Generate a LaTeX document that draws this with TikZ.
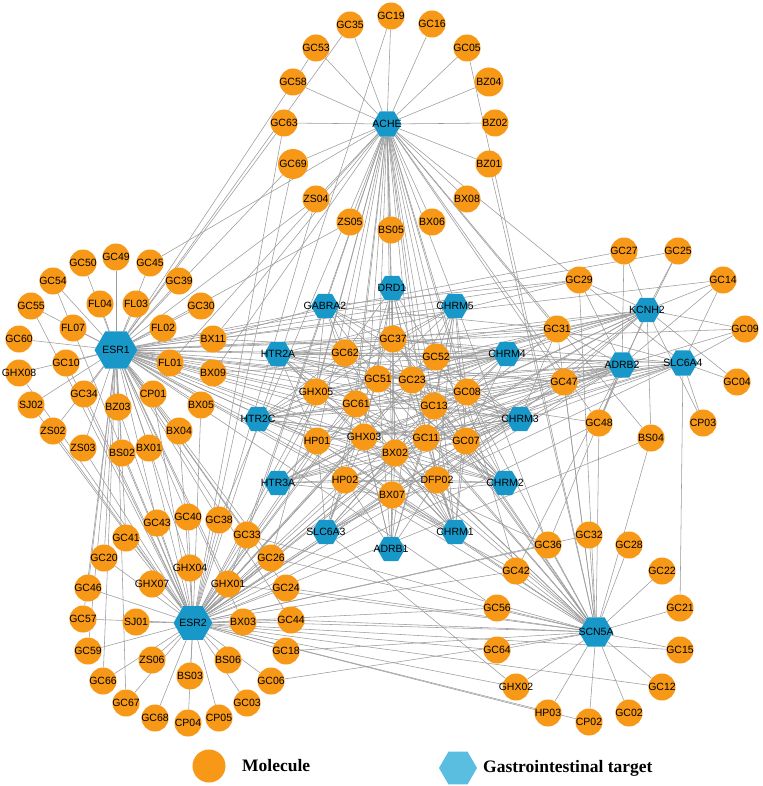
\documentclass[tikz,border=0pt]{standalone}
\usepackage{fontspec}
\setmainfont{Liberation Sans}
\newfontfamily\legfont{Liberation Serif}
\usetikzlibrary{shapes.geometric,backgrounds}
\definecolor{molorange}{RGB}{247,152,22}
\definecolor{hexblue}{RGB}{24,152,200}
\definecolor{leghex}{RGB}{90,190,225}
\definecolor{edgegray}{RGB}{155,155,155}
\tikzset{
 lab/.style={font=\fontsize{10.5}{12}\selectfont, text=black, inner sep=0pt},
 mol/.style={circle, fill=molorange, minimum size=27pt, inner sep=0pt, label={[lab]center:#1}},
 tgt/.style={regular polygon, regular polygon sides=6, fill=hexblue, inner sep=0pt, label={[lab]center:#1}},
 edge/.style={draw=edgegray, line width=0.55pt},
 legtext/.style={anchor=west, inner sep=0pt, font=\legfont\bfseries\fontsize{17.5}{20}\selectfont},
}
\newcommand\molnode[3]{\node[mol={#1}] (#1) at (#2,#3) {};}
\newcommand\tgtnode[4]{\node[tgt={#1}, minimum size=#2pt] (#1) at (#3,#4) {};}
\begin{document}
\begin{tikzpicture}[x=1pt,y=-1pt]
\useasboundingbox (0,0) rectangle (762,786);
% ACHE cluster
\molnode{GC35}{350}{25}
\molnode{GC19}{391}{16}
\molnode{GC16}{432}{24}
\molnode{GC05}{467}{48}
\molnode{GC53}{316}{48}
\molnode{GC58}{293}{82}
\node[mol={BZ04}, minimum size=29pt] (BZ04) at (489,82) {};
\molnode{GC63}{284}{123}
\tgtnode{ACHE}{29}{387}{124}
\molnode{BZ02}{495}{123}
\node[mol={GC69}, minimum size=30pt] (GC69) at (293,164) {};
\molnode{BZ01}{489}{164}
\molnode{ZS04}{316}{199}
\molnode{BX08}{467}{199}
\molnode{ZS05}{350}{222}
\molnode{BS05}{391}{230}
\molnode{BX06}{432}{222}
% ESR1 cluster
\molnode{GC50}{83}{263}
\molnode{GC49}{116}{257}
\molnode{GC45}{150}{263}
\molnode{GC54}{53}{281}
\molnode{GC39}{179}{281}
\molnode{GC55}{31}{306}
\molnode{FL04}{100}{304}
\molnode{FL03}{136}{304}
\molnode{GC30}{201}{306}
\molnode{FL07}{73}{328}
\molnode{FL02}{163}{328}
\molnode{GC60}{19}{339}
\tgtnode{ESR1}{43}{116}{350}
\molnode{BX11}{213}{339}
\molnode{GC10}{66}{363}
\molnode{FL01}{170}{363}
\molnode{GHX08}{19}{373}
\molnode{BX09}{213}{373}
\molnode{GC34}{84}{394}
\molnode{CP01}{153}{394}
\molnode{SJ02}{31}{405}
\molnode{BZ03}{118}{407}
\molnode{BX05}{201}{405}
\molnode{ZS02}{53}{431}
\molnode{BX04}{179}{431}
\molnode{ZS03}{83}{448}
\molnode{BS02}{122}{453}
\molnode{BX01}{149}{448}
% middle
\tgtnode{GABRA2}{28}{325}{306}
\tgtnode{DRD1}{28}{392}{288}
\tgtnode{CHRM5}{28}{455}{306}
\molnode{GC37}{393}{339}
\tgtnode{HTR2A}{28}{278}{354}
\molnode{GC62}{345}{353}
\molnode{GC52}{436}{357}
\tgtnode{CHRM4}{28}{507}{354}
\molnode{GC51}{378}{379}
\molnode{GC23}{412}{380}
\molnode{GHX05}{316}{392}
\molnode{GC61}{356}{404}
\molnode{GC13}{434}{406}
\molnode{GC08}{467}{392}
\tgtnode{HTR2C}{28}{258}{419}
\tgtnode{CHRM3}{28}{520}{419}
\molnode{HP01}{317}{441}
\molnode{GHX03}{364}{437}
\molnode{GC11}{426}{438}
\molnode{GC07}{466}{441}
\molnode{BX02}{395}{453}
\tgtnode{HTR3A}{28}{278}{483}
\molnode{HP02}{345}{480}
\molnode{DFP02}{437}{480}
\tgtnode{CHRM2}{28}{505}{483}
\molnode{BX07}{392}{495}
\tgtnode{SLC6A3}{28}{326}{532}
\tgtnode{CHRM1}{28}{455}{532}
\tgtnode{ADRB1}{28}{391}{549}
% right cluster
\molnode{GC27}{624}{251}
\molnode{GC25}{678}{251}
\molnode{GC29}{579}{280}
\molnode{GC14}{723}{280}
\tgtnode{KCNH2}{28}{647}{310}
\molnode{GC31}{557}{329}
\molnode{GC09}{745}{329}
\tgtnode{ADRB2}{29}{622}{365}
\tgtnode{SLC6A4}{29}{683}{363}
\molnode{GC47}{564}{382}
\molnode{GC04}{737}{382}
\molnode{GC48}{599}{423}
\molnode{CP03}{703}{423}
\molnode{BS04}{651}{438}
% ESR2 cluster
\molnode{GC43}{157}{523}
\molnode{GC40}{188}{517}
\molnode{GC38}{219}{520}
\molnode{GC41}{126}{538}
\molnode{GC33}{247}{535}
\molnode{GC20}{104}{558}
\molnode{GC26}{271}{558}
\molnode{GHX04}{190}{568}
\molnode{GC46}{88}{588}
\molnode{GHX07}{152}{584}
\molnode{GHX01}{228}{584}
\molnode{GC24}{286}{588}
\molnode{GC57}{83}{619}
\molnode{SJ01}{136}{622}
\tgtnode{ESR2}{39}{193}{623}
\molnode{BX03}{243}{622}
\molnode{GC44}{291}{620}
\molnode{GC59}{88}{651}
\molnode{GC18}{286}{651}
\molnode{ZS06}{152}{660}
\molnode{BS06}{228}{660}
\molnode{GC66}{103}{681}
\molnode{BS03}{190}{676}
\molnode{GC06}{271}{681}
\molnode{GC67}{126}{703}
\molnode{GC03}{247}{703}
\molnode{GC68}{155}{718}
\molnode{CP04}{188}{723}
\molnode{CP05}{219}{718}
% SCN5A cluster
\molnode{GC32}{589}{535}
\molnode{GC36}{548}{545}
\molnode{GC28}{629}{545}
\molnode{GC42}{516}{571}
\molnode{GC22}{662}{571}
\molnode{GC56}{497}{608}
\molnode{GC21}{680}{608}
\tgtnode{SCN5A}{34}{596}{632}
\molnode{GC64}{497}{650}
\molnode{GC15}{680}{650}
\molnode{GHX02}{516}{687}
\molnode{GC12}{662}{687}
\molnode{HP03}{548}{713}
\molnode{GC02}{629}{713}
\molnode{CP02}{589}{722}
% legend
\node[circle, fill=molorange, minimum size=33pt, inner sep=0pt] (legmol) at (209,766) {};
\node[legtext] (legmoltext) at (242,766) {Molecule};
\node[regular polygon, regular polygon sides=6, fill=leghex, minimum size=38pt, inner sep=0pt] (leghex) at (458,768) {};
\node[legtext] (leghextext) at (483,768) {Gastrointestinal target};
% edges
\begin{scope}[on background layer]
\fill[white] (0,0) rectangle (762,786);
\foreach \t/\ms in {
 ACHE/{GC35,GC19,GC16,GC05,GC53,GC58,BZ04,GC63,BZ02,GC69,BZ01,ZS04,BX08,ZS05,BS05,BX06,GC45,GC37,GC62,GC52,GC51,GC23,GC61,GC13,GC11,BX02,BX07,HP02,DFP02,GHX03,HP01,GHX05,GC08,GC07,GC31,GC47,GC48,GC29,BX11,BX09,FL01,GC33,GC26,GHX01,GC36,GC42,BS04,GC38},
 ESR1/{GC50,GC49,GC45,GC54,GC39,GC55,FL04,FL03,GC30,FL07,FL02,GC60,BX11,GC10,FL01,GHX08,BX09,GC34,CP01,SJ02,BZ03,BX05,ZS02,BX04,ZS03,BS02,BX01,GC63,GC69,ZS04,ZS05,GC35,GC53,GC37,GC62,GHX05,GC61,GC51,GC23,HP01,GHX03,BX02,GC11,GC13,GC08,GC07,HP02,BX07,DFP02,GC52,GC47,GC31,GC29,GC27,GC25,GC14,GC09,GC48,GC33,GC38,GC40,GC43,GC41,GC26,GHX04,GHX01,GC24,GC44,BX03,GC42,GC36,GC56,GC20,GC46,GC57,GC59,GC66,GC67},
 ESR2/{GC43,GC40,GC38,GC41,GC20,GHX04,GC46,GHX07,GHX01,GC33,GC57,SJ01,BX03,GC59,ZS06,BS06,GC66,BS03,GC67,GC03,GC68,CP04,CP05,GC26,GC24,GC44,GC18,GC06,GC37,GC62,GHX05,GC61,GC51,GC23,HP01,GHX03,BX02,GC11,GC13,GC08,GC07,HP02,BX07,DFP02,GC52,GC47,GC31,GC48,GC56,GC64,GHX02,HP03,CP02,GC42,GC36,GC32,BS04,GC54,GC55,GHX08,SJ02,ZS02,ZS03,BZ03,BS02,BX01,BX04,GC34,CP01,GC10,GC63,GC69,GC19,BX05,ZS04,GC12,GC15},
 SCN5A/{GC36,GC32,GC28,GC42,GC22,GC56,GC21,GC64,GC15,GHX02,GC12,HP03,GC02,CP02,GC37,GC51,GC23,GC13,BX02,GC11,BX07,DFP02,GC07,GC08,GC61,GHX03,HP02,HP01,GC47,GC48,BS04,GC05,BZ01,GC33,GC26,BX03,GC44,GHX01,GC24,GC18,GC06,GC29,GC31},
 KCNH2/{GC27,GC25,GC29,GC14,GC31,GC09,GC47,GC04,GC48,CP03,BS04,GC37,GC52,GC08,GC13,GC23,GC11,GC07,DFP02,BX02,GC61,GC51,GC62,GHX05},
 ADRB2/{GC29,GC31,GC47,GC48,GC14,GC27,GC25,GC09,GC37,GC52,GC08,GC13,GC23,GC11,GC07,DFP02,BX02,GC51,GC61,HP01,GHX03,BX07,HP02,GC36,GC42},
 SLC6A4/{GC04,GC09,GC14,CP03,GC47,GC31,GC29,GC37,GC52,GC08,GC13,GC11,GC07,DFP02,BX02,GC62,GHX05,GHX03,GC21},
 GABRA2/{GC37,GC62,GC51,GC23,GHX05,GC61,GC08,BX11,GC29,GC31},
 DRD1/{GC37,GC62,GC52,GC51,GC23,GC13,GC61,GHX03,BX02,GC11},
 CHRM5/{GC37,GC52,GC23,GC13,GC08,GC11,GC07,GC51,GHX05,DFP02,BX11},
 CHRM4/{GC37,GC52,GC23,GC13,GC08,GC11,GC07,GC51,GC62,GHX05,GC61,HP01,BX11,BX09},
 HTR2A/{GC37,GC62,GHX05,GC61,GC51,GC23,HP01,GHX03,BX02,GC08,GC52,GC13,GC31,GC47,GC29},
 HTR2C/{GC37,GC62,GHX05,GC61,GC51,HP01,GHX03,BX02,GC11,GC13,GC08,GC07,GC47,GC31},
 CHRM3/{GC37,GC52,GC23,GC13,GC08,GC11,GC07,GC51,GC62,GHX05,GC61,HP01,GHX03,BX02,DFP02,HP02,BX07,GC31},
 HTR3A/{GC61,GHX03,HP01,HP02,BX02,BX07,GC11,DFP02,GC13,GC07,GC08,GC47},
 CHRM2/{GC37,GC52,GC23,GC13,GC08,GC11,GC07,GC51,GC62,GHX05,GC61,HP01,GHX03,BX02,DFP02,HP02,BX07},
 SLC6A3/{GHX03,HP01,HP02,BX02,BX07,GC11,DFP02,GC61,GC51,GC13,GHX02,GC07},
 CHRM1/{GC37,GC52,GC23,GC13,GC08,GC11,GC07,GC51,GC62,GHX05,GC61,HP01,GHX03,BX02,DFP02,HP02,BX07},
 ADRB1/{BX02,BX07,HP02,DFP02,GC11,GC13,GHX03,GC61,GC51,GC23,GC37}}
 {\foreach \m in \ms {\draw[edge] (\t) -- (\m);}}
\end{scope}
\end{tikzpicture}
\end{document}
